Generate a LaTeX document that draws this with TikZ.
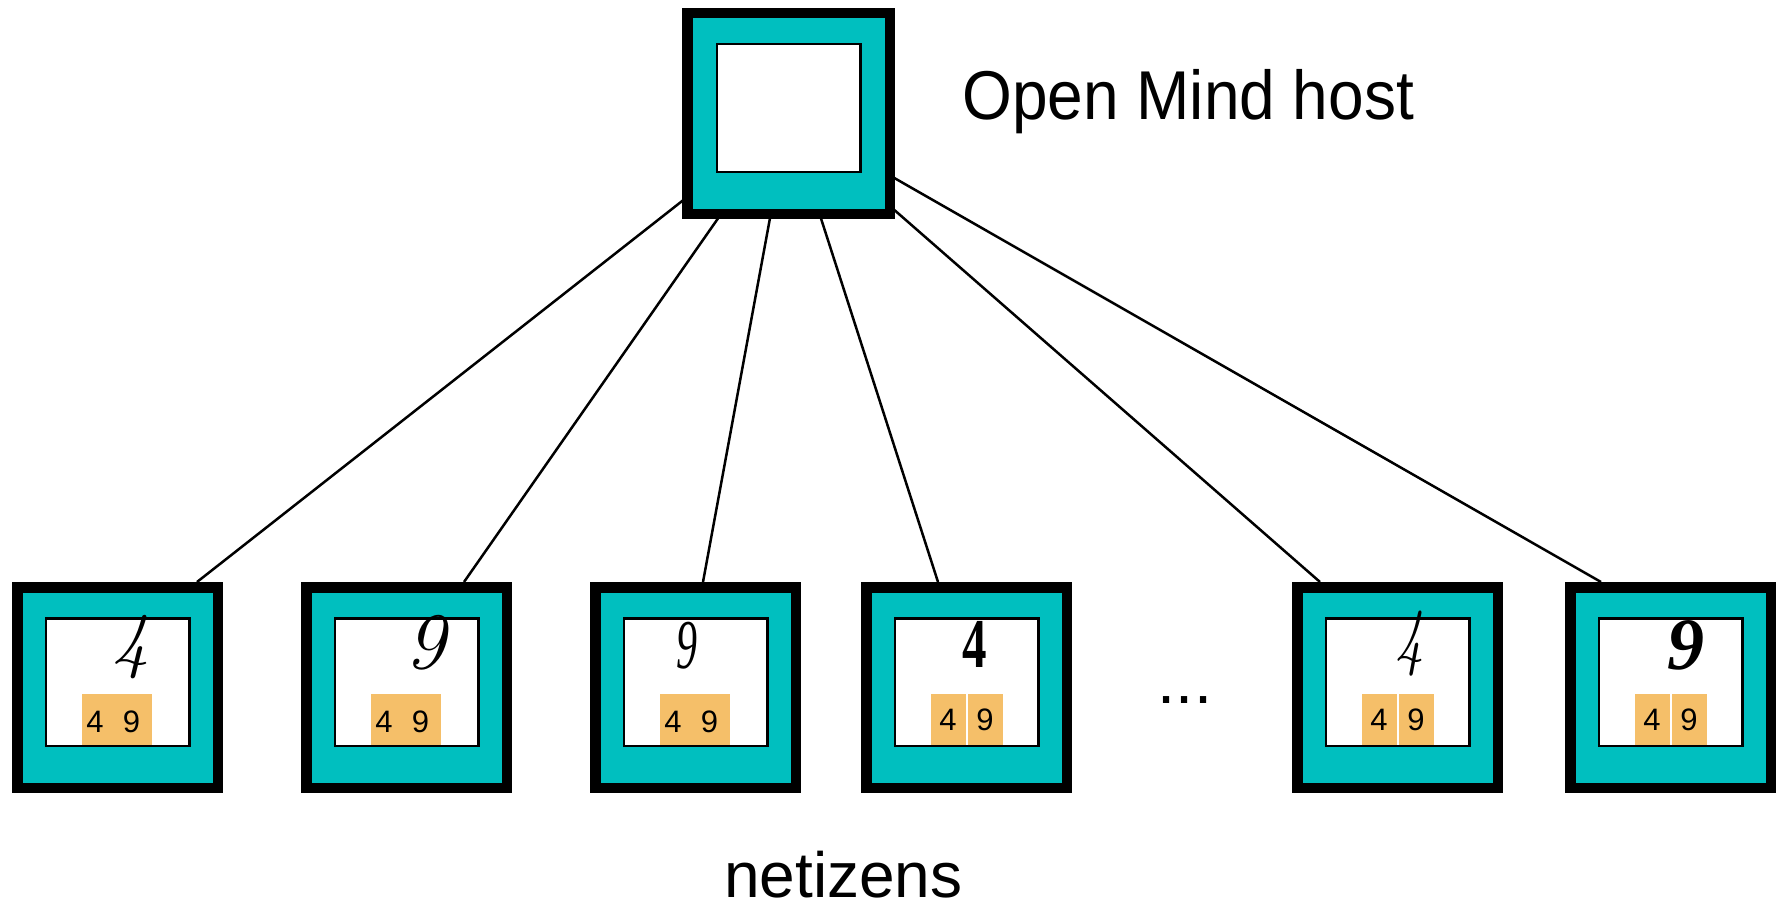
\documentclass[tikz,border=0pt]{standalone}
\usepackage{fontspec}
\newfontfamily\arial{Liberation Sans}
\newfontfamily\tnr{Liberation Serif}
\usetikzlibrary{backgrounds,calc}
\definecolor{boxteal}{RGB}{0,191,191}
\definecolor{tagorange}{RGB}{245,191,105}

\begin{document}
\begin{tikzpicture}[x=1pt,y=-1pt,
  machine/.style={draw=black,line width=10.5pt,fill=boxteal,minimum width=200.5pt,
    minimum height=200.5pt,inner sep=0pt,outer sep=0pt},
  screen/.style={draw=black,line width=2.5pt,fill=white,minimum width=143.5pt,
    minimum height=127.5pt,inner sep=0pt},
  tag/.style={fill=tagorange,minimum height=51pt,inner sep=0pt,
    font=\arial\fontsize{31}{31}\selectfont},
  tagdigit/.style={font=\arial\fontsize{31}{31}\selectfont,inner sep=0pt,anchor=base},
  hand/.style={inner sep=0pt},
  label/.style={font=\arial\fontsize{64}{70}\selectfont,inner sep=0pt},
  link/.style={line width=2.5pt}]

\useasboundingbox (0,0) rectangle (1780,907);

% host machine
\node[machine,minimum width=202.5pt] (host) at (788.5,113.5) {};
\node[screen] (hostscreen) at (788.5,108) {};
\node[label,anchor=base west] (hostlabel) at (962,119) {\scalebox{1}[1.08]{Open Mind host}};

% netizen machines with their screens
\foreach \i/\cx in {1/117.5,2/406.5,3/695.5,4/966.5,5/1397.5,6/1670.5}{
  \node[machine] (c\i) at (\cx,687.5) {};
  \node[screen] (s\i) at (\cx,682) {};
}

% single answer tags
\foreach \i/\cx in {1/117.5,2/406.5,3/695.5}{
  \node[tag,minimum width=70pt] (t\i) at (\cx-0.5,719.5) {};
  \node[tagdigit] (t\i a) at (\cx-22.5,732) {4};
  \node[tagdigit] (t\i b) at (\cx+14,732) {9};
}
% split answer tags
\foreach \i/\cx in {4/966.5,5/1397.5,6/1670.5}{
  \node[tag,minimum width=35pt] (t\i a) at (\cx-18.5,719.5) {4};
  \node[tag,minimum width=35pt] (t\i b) at (\cx+18.5,719.5) {9};
}

% handwritten samples
\node[hand] (d1) at (131,647) {\fontsize{74}{74}\selectfont\itshape 4};
\node[hand] (d2) at (425,643) {\fontsize{80}{80}\selectfont\itshape 9};
\node[hand] (d3) at (687,646) {\tnr\fontsize{70}{70}\selectfont\itshape\scalebox{0.6}[1]{9}};
\node[hand] (d4) at (975,644) {\tnr\fontsize{70}{70}\selectfont\bfseries\scalebox{0.7}[1]{4}};
\node[hand] (d5) at (1410,644) {\fontsize{76}{76}\selectfont\itshape\scalebox{0.75}[1]{4}};
\node[hand] (d6) at (1686,645) {\tnr\fontsize{74}{74}\selectfont\bfseries\itshape 9};

% ellipsis between machines
\node[font=\arial\fontsize{65}{70}\selectfont,inner sep=0pt,anchor=base] (dots) at (1185,703) {...};

\node[label,anchor=base west] (netlabel) at (724,897) {netizens};

% links from the host to every netizen, ending on the outer edge of each frame
\begin{pgfonlayer}{background}
  \coordinate (hub) at ([yshift=-4pt]host.center);
  \draw[link] (hub) -- ([xshift=79.5pt,yshift=5.25pt]c1.north);
  \draw[link] (hub) -- ([xshift=57.5pt,yshift=5.25pt]c2.north);
  \draw[link] (hub) -- ([xshift=7.5pt,yshift=5.25pt]c3.north);
  \draw[link] (hub) -- ([xshift=-28.5pt,yshift=5.25pt]c4.north);
  \draw[link] (hub) -- ([xshift=-77.5pt,yshift=5.25pt]c5.north);
  \draw[link] (hub) -- ([xshift=-69.5pt,yshift=5.25pt]c6.north);
\end{pgfonlayer}
\end{tikzpicture}
\end{document}
